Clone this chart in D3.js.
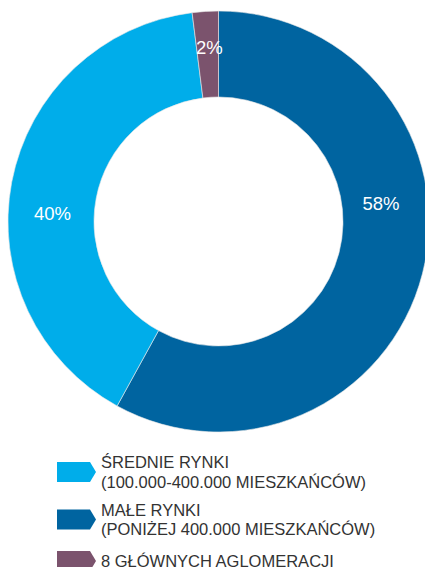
<!DOCTYPE html>
<html>
<head>
<meta charset="utf-8">
<script src="https://cdn.jsdelivr.net/npm/d3@7/dist/d3.min.js"></script>
<style>
  html, body { margin: 0; padding: 0; background: #fff; }
  svg { display: block; }
</style>
</head>
<body>
<svg id="chart" width="425" height="567"></svg>
<script>
// Segment data, in drawing order (clockwise from 12 o'clock)
const segmentKeys = ["male", "srednie", "glowne"];
const segmentValues = [58, 40, 2];
const segmentColors = ["#0064a0", "#00adea", "#7b536d"];

// Legend entries (top to bottom) with their line breaks
const legendKeys = ["srednie", "male", "glowne"];
const legendLines = [
  ["ŚREDNIE RYNKI", "(100.000-400.000 MIESZKAŃCÓW)"],
  ["MAŁE RYNKI", "(PONIŻEJ 400.000 MIESZKAŃCÓW)"],
  ["8 GŁÓWNYCH AGLOMERACJI"]
];

// Layout
const cx = 218.5, cy = 221.5;
const outerR = 210.5, innerR = 124.5;
// polar placement of each percentage label (degrees clockwise from top, radius)
const labelAngles = [83.6, 272.8, -3.0];
const labelRadii = [163.5, 166.2, 174];
const fontFamily = "'Liberation Sans', Arial, Helvetica, sans-serif";

const svg = d3.select("#chart");
const color = d3.scaleOrdinal().domain(segmentKeys).range(segmentColors);

const pie = d3.pie().sort(null).value(d => d.value);
const arcs = pie(segmentKeys.map((k, i) => ({ key: k, value: segmentValues[i] })));
const arc = d3.arc().innerRadius(innerR).outerRadius(outerR);

const g = svg.append("g").attr("transform", `translate(${cx},${cy})`);

g.selectAll("path.slice")
  .data(arcs)
  .join("path")
  .attr("class", "slice")
  .attr("d", arc)
  .attr("fill", d => color(d.data.key))
  .attr("stroke", "#e8e8e8")
  .attr("stroke-width", 0.6);

const rad = a => a * Math.PI / 180;
g.selectAll("text.pct")
  .data(arcs)
  .join("text")
  .attr("class", "pct")
  .attr("x", (d, i) => labelRadii[i] * Math.sin(rad(labelAngles[i])))
  .attr("y", (d, i) => -labelRadii[i] * Math.cos(rad(labelAngles[i])))
  .attr("dy", "0.35em")
  .attr("text-anchor", "middle")
  .attr("fill", "#fff")
  .attr("font-family", fontFamily)
  .attr("font-size", 18.5)
  .text(d => d.data.value + "%");

// Legend with arrow-shaped swatches
const legendX = 57, swW = 33, swTip = 6, swH = 20;
const legendTops = [462, 509.5, 551];
const lineGap = 19.5;

const items = svg.selectAll("g.legend")
  .data(legendKeys)
  .join("g")
  .attr("class", "legend")
  .attr("transform", (d, i) => `translate(${legendX},${legendTops[i]})`);

items.append("path")
  .attr("d", `M0,0H${swW}L${swW + swTip},${swH / 2}L${swW},${swH}H0Z`)
  .attr("fill", d => color(d));

items.each(function (d, i) {
  const lines = legendLines[i];
  const first = swH / 2 - (lines.length - 1) * lineGap / 2;
  const t = d3.select(this).append("text")
    .attr("font-family", fontFamily)
    .attr("font-size", 16.5)
    .attr("fill", "#333");
  lines.forEach((line, j) => {
    t.append("tspan")
      .attr("x", 44)
      .attr("y", first + j * lineGap)
      .attr("dy", "0.35em")
      .text(line);
  });
});
</script>
</body>
</html>
